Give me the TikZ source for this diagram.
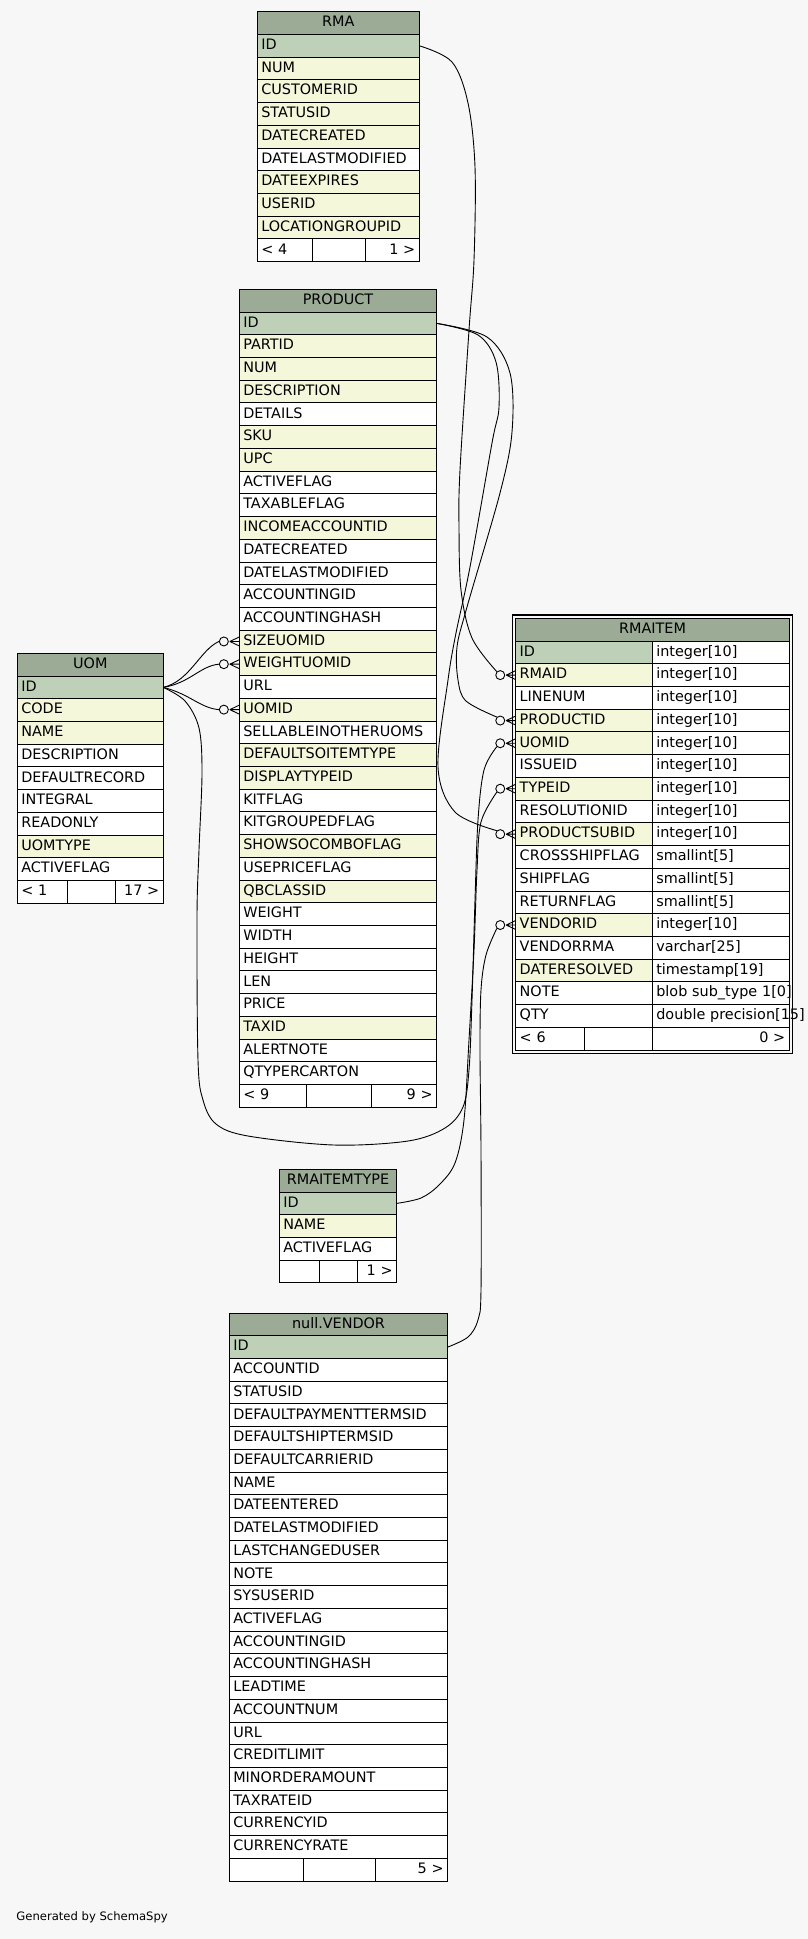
\documentclass[tikz,border=0pt]{standalone}
\usepackage{fontspec}
\setmainfont{DejaVu Sans}
\usetikzlibrary{positioning}

\definecolor{headbg}{HTML}{9BAB96}
\definecolor{keybg}{HTML}{BED1B8}
\definecolor{idxbg}{HTML}{F4F7DA}
\definecolor{pagebg}{HTML}{F7F7F7}
\newcommand{\cellfont}{\fontsize{14.4}{17}\selectfont}
% circle + crow's foot in front of a row
\newcommand{\crowfoot}[2]{%
  \node[odot, left=10.5pt of #1.west] (#2) {};
  \draw ([xshift=1pt]#2.east) -- ([yshift=4.5pt]#1.west)
        ([xshift=1pt]#2.east) -- (#1.west)
        ([xshift=1pt]#2.east) -- ([yshift=-4.5pt]#1.west);
}
\tikzset{
  cell/.style={draw, anchor=north west, outer sep=0pt, minimum height=22.72pt,
    inner xsep=4pt, inner ysep=0pt, text height=11pt, text depth=3.5pt,
    align=left, font=\cellfont},
  head/.style={cell, fill=headbg, align=center},
  odot/.style={circle, draw, inner sep=0pt, minimum size=9pt},
  link/.style={smooth, tension=0.55}
}

\begin{document}
\begin{tikzpicture}[x=1pt, y=-1pt, line width=0.9pt]
  \fill[pagebg] (0,0) rectangle (808,1939);
  \useasboundingbox (0,0) rectangle (808,1939);

  % RMA
  \node[head, text width=154pt] (rma) at (257.3,11.7) {RMA};
  \foreach \col/\fillc [count=\i] in {ID/keybg, NUM/idxbg, CUSTOMERID/idxbg,
      STATUSID/idxbg, DATECREATED/idxbg, DATELASTMODIFIED/white, DATEEXPIRES/idxbg,
      USERID/idxbg, LOCATIONGROUPID/idxbg}
    \node[cell, fill=\fillc, text width=154pt] (rma-\col) at (257.3,11.7+\i*22.72) {\col};
  \node[cell, fill=white, text width=47pt] (rma-fl) at (257.3,11.7+10*22.72) {\mbox{< 4}};
  \node[cell, fill=white, text width=45.4pt, right=0pt of rma-fl] (rma-fm) {};
  \node[cell, fill=white, text width=45.6pt, align=right, right=0pt of rma-fm] (rma-fr) {\mbox{1 >}};

  % PRODUCT
  \node[head, text width=189.4pt] (product) at (239.3,289.3) {PRODUCT};
  \foreach \col/\fillc [count=\i] in {ID/keybg, PARTID/idxbg, NUM/idxbg,
      DESCRIPTION/idxbg, DETAILS/white, SKU/idxbg, UPC/idxbg, ACTIVEFLAG/white,
      TAXABLEFLAG/white, INCOMEACCOUNTID/idxbg, DATECREATED/white,
      DATELASTMODIFIED/white, ACCOUNTINGID/white, ACCOUNTINGHASH/white,
      SIZEUOMID/idxbg, WEIGHTUOMID/idxbg, URL/white, UOMID/idxbg,
      SELLABLEINOTHERUOMS/white, DEFAULTSOITEMTYPE/idxbg, DISPLAYTYPEID/idxbg,
      KITFLAG/white, KITGROUPEDFLAG/white, SHOWSOCOMBOFLAG/idxbg, USEPRICEFLAG/white,
      QBCLASSID/idxbg, WEIGHT/white, WIDTH/white, HEIGHT/white, LEN/white,
      PRICE/white, TAXID/idxbg, ALERTNOTE/white, QTYPERCARTON/white}
    \node[cell, fill=\fillc, text width=189.4pt] (product-\col) at (239.3,289.3+\i*22.72) {\col};
  \node[cell, fill=white, text width=58.7pt] (product-fl) at (239.3,289.3+35*22.72) {\mbox{< 9}};
  \node[cell, fill=white, text width=57.7pt, right=0pt of product-fl] (product-fm) {};
  \node[cell, fill=white, text width=57pt, align=right, right=0pt of product-fm] (product-fr) {\mbox{9 >}};

  % UOM
  \node[head, text width=138pt] (uom) at (17.3,653.3) {UOM};
  \foreach \col/\fillc [count=\i] in {ID/keybg, CODE/idxbg, NAME/idxbg,
      DESCRIPTION/white, DEFAULTRECORD/white, INTEGRAL/white, READONLY/white,
      UOMTYPE/idxbg, ACTIVEFLAG/white}
    \node[cell, fill=\fillc, text width=138pt] (uom-\col) at (17.3,653.3+\i*22.72) {\col};
  \node[cell, fill=white, text width=42pt] (uom-fl) at (17.3,653.3+10*22.72) {\mbox{< 1}};
  \node[cell, fill=white, text width=40.4pt, right=0pt of uom-fl] (uom-fm) {};
  \node[cell, fill=white, text width=39.6pt, align=right, right=0pt of uom-fm] (uom-fr) {\mbox{17 >}};

  % RMAITEM
  \node[head, text width=265.6pt] (rmaitem) at (515.7,618.3) {RMAITEM};
  \foreach \col/\fillc/\dtype [count=\i] in {ID/keybg/integer[10],
      RMAID/idxbg/integer[10], LINENUM/white/integer[10], PRODUCTID/idxbg/integer[10],
      UOMID/idxbg/integer[10], ISSUEID/white/integer[10], TYPEID/idxbg/integer[10],
      RESOLUTIONID/white/integer[10], PRODUCTSUBID/idxbg/integer[10],
      CROSSSHIPFLAG/white/smallint[5], SHIPFLAG/white/smallint[5],
      RETURNFLAG/white/smallint[5], VENDORID/idxbg/integer[10],
      VENDORRMA/white/varchar[25], DATERESOLVED/idxbg/timestamp[19],
      NOTE/white/blob sub\_type 1[0], QTY/white/double precision[15]}
  {
    \node[cell, fill=\fillc, text width=128.6pt] (rmaitem-\col) at (515.7,618.3+\i*22.72) {\col};
    \node[cell, fill=white, text width=129pt] (rmaitem-\col-type) at (652.3,618.3+\i*22.72) {\mbox{\dtype}};
  }
  \node[cell, fill=white, text width=60.6pt] (rmaitem-fl) at (515.7,618.3+18*22.72) {\mbox{< 6}};
  \node[cell, fill=white, text width=60pt, right=0pt of rmaitem-fl] (rmaitem-fm) {};
  \node[cell, fill=white, text width=129pt, align=right, right=0pt of rmaitem-fm] (rmaitem-fr) {\mbox{0 >}};
  \draw[line width=1.5pt] ([shift={(-3.4,-3.4)}]rmaitem.north west) rectangle ([shift={(3.4,3.4)}]rmaitem-fr.south east);

  % RMAITEMTYPE
  \node[head, text width=109.4pt] (itemtype) at (279.3,1169.3) {RMAITEMTYPE};
  \foreach \col/\fillc [count=\i] in {ID/keybg, NAME/idxbg, ACTIVEFLAG/white}
    \node[cell, fill=\fillc, text width=109.4pt] (itemtype-\col) at (279.3,1169.3+\i*22.72) {\col};
  \node[cell, fill=white, text width=32pt] (itemtype-fl) at (279.3,1169.3+4*22.72) {};
  \node[cell, fill=white, text width=30pt, right=0pt of itemtype-fl] (itemtype-fm) {};
  \node[cell, fill=white, text width=31.4pt, align=right, right=0pt of itemtype-fm] (itemtype-fr) {\mbox{1 >}};

  % null.VENDOR
  \node[head, text width=210.4pt] (vendor) at (229.3,1313) {null.VENDOR};
  \foreach \col/\fillc [count=\i] in {ID/keybg, ACCOUNTID/white, STATUSID/white,
      DEFAULTPAYMENTTERMSID/white, DEFAULTSHIPTERMSID/white, DEFAULTCARRIERID/white,
      NAME/white, DATEENTERED/white, DATELASTMODIFIED/white, LASTCHANGEDUSER/white,
      NOTE/white, SYSUSERID/white, ACTIVEFLAG/white, ACCOUNTINGID/white,
      ACCOUNTINGHASH/white, LEADTIME/white, ACCOUNTNUM/white, URL/white,
      CREDITLIMIT/white, MINORDERAMOUNT/white, TAXRATEID/white, CURRENCYID/white,
      CURRENCYRATE/white}
    \node[cell, fill=\fillc, text width=210.4pt] (vendor-\col) at (229.3,1313+\i*22.72) {\col};
  \node[cell, fill=white, text width=66pt] (vendor-fl) at (229.3,1313+24*22.72) {};
  \node[cell, fill=white, text width=64.4pt, right=0pt of vendor-fl] (vendor-fm) {};
  \node[cell, fill=white, text width=64pt, align=right, right=0pt of vendor-fm] (vendor-fr) {\mbox{5 >}};

  % crow's feet
  \crowfoot{product-SIZEUOMID}{cf-size}
  \crowfoot{product-WEIGHTUOMID}{cf-weight}
  \crowfoot{product-UOMID}{cf-puom}
  \crowfoot{rmaitem-RMAID}{cf-rma}
  \crowfoot{rmaitem-PRODUCTID}{cf-pid}
  \crowfoot{rmaitem-UOMID}{cf-uom}
  \crowfoot{rmaitem-TYPEID}{cf-type}
  \crowfoot{rmaitem-PRODUCTSUBID}{cf-psub}
  \crowfoot{rmaitem-VENDORID}{cf-vendor}

  % relations
  \draw plot[link] coordinates {(rma-ID.east) (452,62) (468,103) (475,167) (474,260)
    (469,330) (460,470) (459,527) (461,590) (472,638) (cf-rma.north west)};
  \draw plot[link] coordinates {(product-ID.east) (487,337) (510,373) (512,432)
    (500,493) (467,607) (457,647) (458,680) (466,701) (cf-pid.north west)};
  \draw plot[link] coordinates {(product-ID.east) (478,335) (496,362) (499,407)
    (492,443) (470,567) (456,633) (448,680) (438,767) (455,812) (cf-psub.north west)};
  \draw (uom-ID.east) .. controls (190,681) and (200,650) .. (cf-size.west);
  \draw (uom-ID.east) .. controls (190,683) and (200,666) .. (cf-weight.west);
  \draw (uom-ID.east) .. controls (190,694) and (200,708) .. (cf-puom.west);
  \draw plot[link] coordinates {(uom-ID.east) (185,701) (199,728) (202,773) (199,850)
    (197,917) (198,1060) (203,1100) (216,1124) (248,1136) (334,1145) (408,1141)
    (445,1128) (463,1107) (469,1070) (472,1000) (475,900) (478,820) (484,770)
    (cf-uom.south west)};
  \draw plot[link] coordinates {(itemtype-ID.east) (421,1198) (439,1185) (455,1163)
    (464,1120) (469,1040) (474,950) (477,870) (481,822) (cf-type.south west)};
  \draw plot[link] coordinates {(vendor-ID.east) (468,1337) (478,1320) (481,1290)
    (481,1150) (480,1050) (481,990) (486,955) (cf-vendor.south west)};

  \node[anchor=west, inner sep=0pt, font=\fontsize{11.6}{14}\selectfont] (credit)
    at (16,1917) {Generated by SchemaSpy};
\end{tikzpicture}
\end{document}
